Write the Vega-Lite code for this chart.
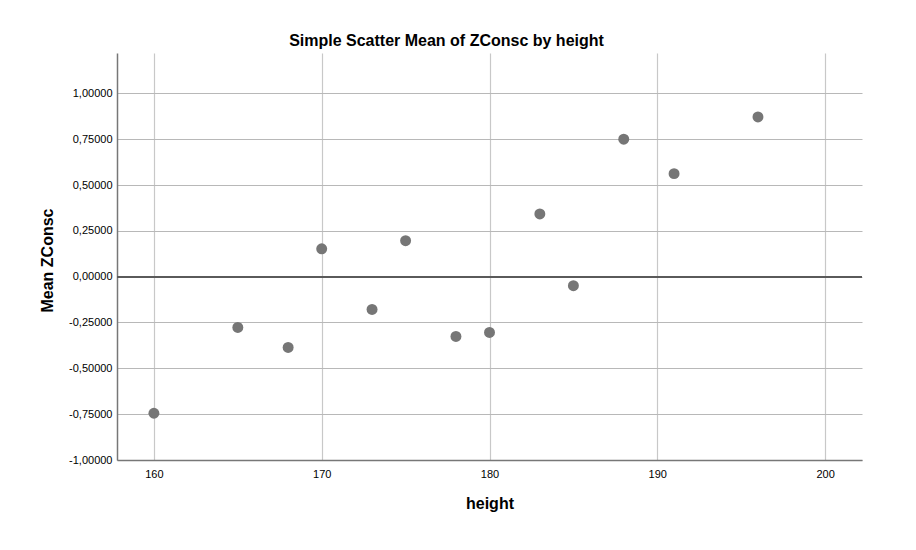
{
  "$schema": "https://vega.github.io/schema/vega-lite/v6.json",
  "autosize": "none",
  "width": 745,
  "height": 407,
  "padding": {"left": 117, "top": 53, "right": 54, "bottom": 90},
  "background": "white",
  "config": {
    "font": "Liberation Sans",
    "view": {"stroke": null},
    "axisX": {
      "grid": true,
      "titleFont": "Liberation Sans",
      "titleFontSize": 16,
      "titleFontWeight": "bold",
      "titleColor": "#000000",
      "titlePadding": 16,
      "labelFont": "Liberation Sans",
      "labelFontSize": 11,
      "labelColor": "#000000",
      "labelPadding": 8,
      "ticks": false,
      "domainColor": "#777777",
      "domainWidth": 1.5,
      "gridColor": "#c8c8c8",
      "gridWidth": 1.2
    },
    "axisY": {
      "grid": true,
      "titleFont": "Liberation Sans",
      "titleFontSize": 16,
      "titleFontWeight": "bold",
      "titleColor": "#000000",
      "titlePadding": 13,
      "labelFont": "Liberation Sans",
      "labelFontSize": 11,
      "labelColor": "#000000",
      "labelPadding": 5,
      "ticks": false,
      "domainColor": "#777777",
      "domainWidth": 1.5,
      "gridColor": "#b8b8b8",
      "gridWidth": 1
    }
  },
  "title": {
    "text": "Simple Scatter Mean of ZConsc by height",
    "font": "Liberation Sans",
    "fontSize": 16,
    "fontWeight": "bold",
    "color": "#000000",
    "anchor": "middle",
    "dx": -43,
    "offset": 4
  },
  "data": {
    "values": [
      {"height": 160, "zconsc": -0.745},
      {"height": 165, "zconsc": -0.277},
      {"height": 168, "zconsc": -0.386},
      {"height": 170, "zconsc": 0.152},
      {"height": 173, "zconsc": -0.179},
      {"height": 175, "zconsc": 0.196},
      {"height": 178, "zconsc": -0.326},
      {"height": 180, "zconsc": -0.304},
      {"height": 183, "zconsc": 0.342},
      {"height": 185, "zconsc": -0.049},
      {"height": 188, "zconsc": 0.75},
      {"height": 191, "zconsc": 0.562},
      {"height": 196, "zconsc": 0.871}
    ]
  },
  "layer": [
    {
      "mark": {"type": "circle", "size": 120, "color": "#767676", "opacity": 1},
      "encoding": {
        "x": {
          "field": "height",
          "type": "quantitative",
          "scale": {"domain": [157.8, 202.2], "nice": false, "zero": false},
          "axis": {
            "title": "height",
            "grid": true,
            "values": [160, 170, 180, 190, 200]
          }
        },
        "y": {
          "field": "zconsc",
          "type": "quantitative",
          "scale": {"domain": [-1, 1.22], "nice": false, "zero": false},
          "axis": {
            "title": "Mean ZConsc",
            "grid": true,
            "titleY": 207,
            "values": [-1, -0.75, -0.5, -0.25, 0, 0.25, 0.5, 0.75, 1],
            "labelExpr": "(datum.value < 0 ? '-' : '') + replace(format(abs(datum.value), '.5f'), '.', ',')"
          }
        }
      }
    },
    {
      "mark": {"type": "rule", "color": "#5a5a5a", "strokeWidth": 1.5},
      "encoding": {
        "y": {"datum": 0, "type": "quantitative"}
      }
    }
  ]
}
